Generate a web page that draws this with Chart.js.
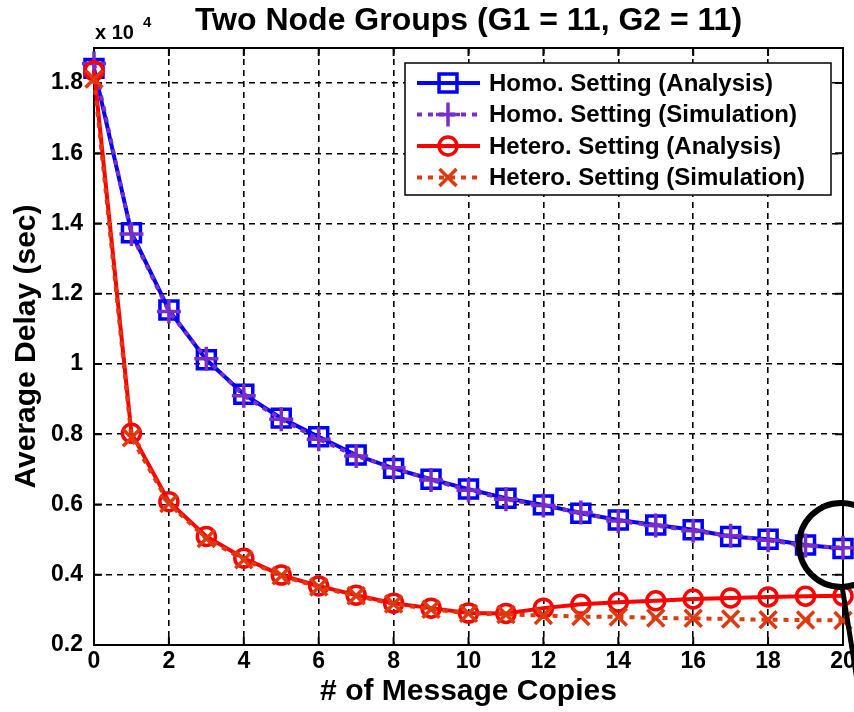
<!DOCTYPE html>
<html>
<head>
<meta charset="utf-8">
<title>Two Node Groups</title>
<script src="https://cdn.jsdelivr.net/npm/chart.js@4.4.0/dist/chart.umd.min.js"></script>
<style>
  html, body { margin: 0; padding: 0; background: #fff; }
  canvas { display: block; }
</style>
</head>
<body>
<canvas id="delayChart" width="854" height="712"></canvas>
<script>
// x axis: number of message copies
const copies = [0, 1, 2, 3, 4, 5, 6, 7, 8, 9, 10, 11, 12, 13, 14, 15, 16, 17, 18, 19, 20];

// average delay, in units of 10^4 sec
const homoAnalysis = [1.842, 1.374, 1.154, 1.012, 0.914, 0.846, 0.793, 0.741, 0.703, 0.672, 0.644,
                      0.618, 0.599, 0.575, 0.556, 0.542, 0.528, 0.509, 0.501, 0.485, 0.475];
const homoSimulation = [1.856, 1.370, 1.150, 1.015, 0.910, 0.843, 0.786, 0.738, 0.705, 0.670, 0.641,
                        0.615, 0.597, 0.577, 0.553, 0.540, 0.525, 0.511, 0.498, 0.483, 0.477];
const heteroAnalysis = [1.835, 0.803, 0.608, 0.509, 0.447, 0.399, 0.368, 0.342, 0.319, 0.305, 0.291,
                        0.290, 0.305, 0.316, 0.322, 0.326, 0.331, 0.334, 0.337, 0.339, 0.340];
const heteroSimulation = [1.812, 0.790, 0.603, 0.503, 0.443, 0.397, 0.365, 0.340, 0.317, 0.302, 0.290,
                          0.287, 0.284, 0.281, 0.280, 0.277, 0.276, 0.274, 0.272, 0.271, 0.270];

const xTicks = [0, 2, 4, 6, 8, 10, 12, 14, 16, 18, 20];
const yTicks = [0.2, 0.4, 0.6, 0.8, 1.0, 1.2, 1.4, 1.6, 1.8];

// spot circled on the figure (data coords)
const zoomMark = { x: 19.95, y: 0.485 };

const FONT = '"Liberation Sans", Arial, Helvetica, sans-serif';

const seriesStyles = [
    { label: 'Homo. Setting (Analysis)',    color: '#0000ff', dash: [],     marker: 'rect',     r: 12.7 },
    { label: 'Homo. Setting (Simulation)',  color: '#7a2ec8', dash: [5, 6], marker: 'cross',    r: 12 },
    { label: 'Hetero. Setting (Analysis)',  color: '#ff0000', dash: [],     marker: 'circle',   r: 9 },
    { label: 'Hetero. Setting (Simulation)', color: '#dd3a10', dash: [5, 6], marker: 'crossRot', r: 12 }
];
const seriesValues = [homoAnalysis, homoSimulation, heteroAnalysis, heteroSimulation];

function toPoints(ys) {
    return copies.map((c, i) => ({ x: c, y: ys[i] }));
}

function drawMarker(ctx, marker, r, x, y) {
    ctx.beginPath();
    if (marker === 'rect') {
        const s = r * Math.SQRT1_2;
        ctx.rect(x - s, y - s, 2 * s, 2 * s);
    } else if (marker === 'circle') {
        ctx.arc(x, y, r, 0, Math.PI * 2);
    } else if (marker === 'cross') {
        ctx.moveTo(x - r, y); ctx.lineTo(x + r, y);
        ctx.moveTo(x, y - r); ctx.lineTo(x, y + r);
    } else {
        const d = r * Math.SQRT1_2;
        ctx.moveTo(x - d, y - d); ctx.lineTo(x + d, y + d);
        ctx.moveTo(x + d, y - d); ctx.lineTo(x - d, y + d);
    }
    ctx.stroke();
}

const datasets = seriesStyles.map((s, i) => ({
    label: s.label,
    data: toPoints(seriesValues[i]),
    borderColor: s.color,
    backgroundColor: 'rgba(0,0,0,0)',
    borderWidth: 4,
    borderDash: s.dash,
    pointStyle: s.marker,
    pointRadius: s.r,
    pointHoverRadius: s.r,
    pointBorderWidth: 3.5,
    pointBorderColor: s.color,
    pointBackgroundColor: 'rgba(0,0,0,0)',
    tension: 0,
    clip: false,
    order: seriesStyles.length - 1 - i   // later series on top, like the original
}));

// frame, inner ticks, title, legend box and the black circle
const extrasPlugin = {
    id: 'extras',
    beforeDatasetsDraw(chart) {
        const { ctx, chartArea: a, scales: { x, y } } = chart;
        ctx.save();
        ctx.strokeStyle = '#000';
        ctx.lineWidth = 2;
        ctx.setLineDash([]);
        ctx.strokeRect(a.left, a.top, a.right - a.left, a.bottom - a.top);
        ctx.beginPath();
        const tl = 8;
        xTicks.forEach(v => {
            const px = x.getPixelForValue(v);
            ctx.moveTo(px, a.bottom); ctx.lineTo(px, a.bottom - tl);
            ctx.moveTo(px, a.top); ctx.lineTo(px, a.top + tl);
        });
        yTicks.forEach(v => {
            const py = y.getPixelForValue(v);
            ctx.moveTo(a.left, py); ctx.lineTo(a.left + tl, py);
            ctx.moveTo(a.right, py); ctx.lineTo(a.right - tl, py);
        });
        ctx.stroke();
        ctx.restore();
    },
    afterDraw(chart) {
        const { ctx, chartArea: a, scales: { x, y } } = chart;
        ctx.save();
        ctx.fillStyle = '#000';

        // title
        ctx.font = 'bold 32px ' + FONT;
        ctx.textAlign = 'center';
        ctx.textBaseline = 'middle';
        ctx.fillText('Two Node Groups (G1 = 11, G2 = 11)', (a.left + a.right) / 2, 21);

        // exponent label
        ctx.textAlign = 'left';
        ctx.textBaseline = 'alphabetic';
        ctx.font = 'bold 20px ' + FONT;
        ctx.fillText('x 10', a.left + 1, 39);
        const w = ctx.measureText('x 10').width;
        ctx.font = 'bold 15px ' + FONT;
        ctx.fillText('4', a.left + w + 10, 27);

        // legend
        const lx = a.right - 438, ly = a.top + 15, lw = 426, lh = 132;
        ctx.fillStyle = '#fff';
        ctx.fillRect(lx, ly, lw, lh);
        ctx.strokeStyle = '#000';
        ctx.lineWidth = 1.5;
        ctx.strokeRect(lx, ly, lw, lh);
        ctx.font = 'bold 24px ' + FONT;
        ctx.textBaseline = 'middle';
        seriesStyles.forEach((s, i) => {
            const ry = ly + 20 + i * 31.5;
            ctx.strokeStyle = s.color;
            ctx.lineWidth = 4;
            ctx.setLineDash(s.dash);
            ctx.beginPath();
            ctx.moveTo(lx + 12, ry);
            ctx.lineTo(lx + 75, ry);
            ctx.stroke();
            ctx.setLineDash([]);
            ctx.lineWidth = 3.5;
            drawMarker(ctx, s.marker, s.r, lx + 43, ry);
            ctx.fillStyle = '#000';
            ctx.fillText(s.label, lx + 84, ry + 1);
        });

        // black circle with its tail
        const cx = x.getPixelForValue(zoomMark.x);
        const cy = y.getPixelForValue(zoomMark.y);
        const r = 42;
        ctx.strokeStyle = '#000';
        ctx.lineWidth = 6;
        ctx.beginPath();
        ctx.arc(cx, cy, r, 0, Math.PI * 2);
        ctx.stroke();
        ctx.lineWidth = 5;
        ctx.beginPath();
        ctx.moveTo(cx + 1, cy + r);
        ctx.lineTo(cx + 1 + 0.16 * 150, cy + r + 150);
        ctx.stroke();
        ctx.restore();
    }
};

const tickFont = { family: FONT, size: 23, weight: 'bold' };
const titleFont = { family: FONT, size: 30, weight: 'bold' };

new Chart(document.getElementById('delayChart'), {
    type: 'line',
    data: { datasets: datasets },
    plugins: [extrasPlugin],
    options: {
        responsive: false,
        animation: false,
        events: [],
        layout: { autoPadding: false, padding: { top: 48, right: 11, bottom: 0, left: 0 } },
        plugins: {
            legend: { display: false },
            tooltip: { enabled: false },
            title: { display: false }
        },
        scales: {
            x: {
                type: 'linear',
                min: 0,
                max: 20,
                afterBuildTicks: s => { s.ticks = xTicks.map(v => ({ value: v })); },
                afterFit: s => { s.height = 67; s.paddingLeft = 0; s.paddingRight = 0; },
                ticks: { font: tickFont, color: '#000', padding: 3, maxRotation: 0, autoSkip: false },
                grid: { color: '#000', lineWidth: 1.6, drawTicks: false },
                border: { display: true, color: '#000', width: 2, dash: [6, 5] },
                title: { display: true, text: '# of Message Copies', font: titleFont, color: '#000',
                         padding: { top: 0, bottom: 2 } }
            },
            y: {
                type: 'linear',
                min: 0.2,
                max: 1.9,
                afterBuildTicks: s => { s.ticks = yTicks.map(v => ({ value: v })); },
                afterFit: s => { s.width = 94; s.paddingTop = 0; s.paddingBottom = 0; },
                ticks: { font: tickFont, color: '#000', padding: 11,
                         callback: v => String(+v.toFixed(1)) },
                grid: { color: '#000', lineWidth: 1.6, drawTicks: false },
                border: { display: true, color: '#000', width: 2, dash: [6, 5] },
                title: { display: true, text: 'Average Delay (sec)', font: titleFont, color: '#000',
                         padding: { top: 9, bottom: 0 } }
            }
        }
    }
});
</script>
</body>
</html>
